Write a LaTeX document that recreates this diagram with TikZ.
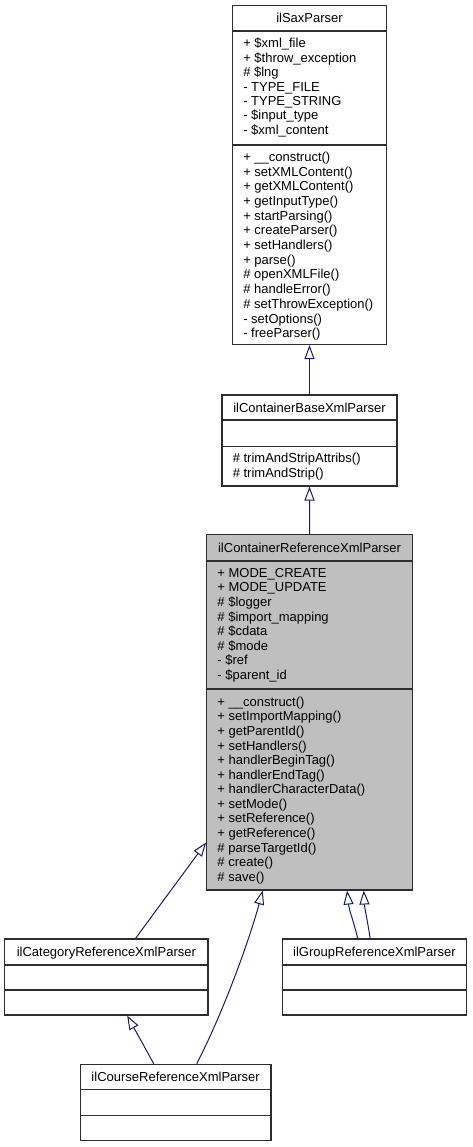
\documentclass[tikz,border=0pt]{standalone}
\usepackage{fontspec}
\setmainfont{Liberation Sans}
\usetikzlibrary{arrows.meta,fit,calc}
\definecolor{edgeblue}{RGB}{25,25,112}
\definecolor{boxline}{RGB}{45,45,45}
\definecolor{grayfill}{RGB}{191,191,191}
\begin{document}
\begin{tikzpicture}[x=0.75pt,y=-0.75pt,
  box/.style={draw=boxline, line width=0.8pt, inner sep=0pt, fill=white},
  sep/.style={draw=boxline, line width=0.8pt},
  txt/.style={anchor=base west, inner sep=0pt, font=\fontsize{9.75pt}{11pt}\selectfont},
  ttl/.style={anchor=base, inner sep=0pt, font=\fontsize{9.75pt}{11pt}\selectfont},
  inh/.style={draw=edgeblue, line width=0.75pt, -{Triangle[open,length=10.5pt,width=7.5pt,fill=white]}}]
\useasboundingbox (0,0) rectangle (472,1147);

% boxes
\node[box, fit={(232.5,5.5) (386.5,344.5)}] (sax) {};
\node[box, fit={(222,395) (397,486)}] (base) {};
\node[box, fill=grayfill, fit={(206.7,534.7) (412.3,890)}] (gray) {};
\node[box, fit={(4.7,939) (208,1015)}] (cat) {};
\node[box, fit={(282.3,939) (466.7,1015)}] (grp) {};
\node[box, fit={(80.3,1064.3) (271,1140.7)}] (course) {};

% separators
\draw[sep] (sax.west |- 0,31) -- (sax.east |- 0,31);
\draw[sep] (sax.west |- 0,145) -- (sax.east |- 0,145);
\draw[sep] (base.west |- 0,420) -- (base.east |- 0,420);
\draw[sep] (base.west |- 0,446.7) -- (base.east |- 0,446.7);
\draw[sep] (gray.west |- 0,561) -- (gray.east |- 0,561);
\draw[sep] (gray.west |- 0,689) -- (gray.east |- 0,689);
\draw[sep] (cat.west |- 0,965) -- (cat.east |- 0,965);
\draw[sep] (cat.west |- 0,990) -- (cat.east |- 0,990);
\draw[sep] (grp.west |- 0,965) -- (grp.east |- 0,965);
\draw[sep] (grp.west |- 0,990) -- (grp.east |- 0,990);
\draw[sep] (course.west |- 0,1089.7) -- (course.east |- 0,1089.7);
\draw[sep] (course.west |- 0,1115.3) -- (course.east |- 0,1115.3);

% titles
\node[ttl] (saxt) at (309.5,22.9) {ilSaxParser};
\node[ttl] (baset) at (309.5,412.1) {ilContainerBaseXmlParser};
\node[ttl] (grayt) at (309.5,552.4) {ilContainerReferenceXmlParser};
\node[ttl] (catt) at (106.35,956.6) {ilCategoryReferenceXmlParser};
\node[ttl] (grpt) at (374.5,956.6) {ilGroupReferenceXmlParser};
\node[ttl] (courset) at (175.65,1081.6) {ilCourseReferenceXmlParser};

% ilSaxParser members
\foreach \t [count=\i from 0] in {{+ \$xml\_file},{+ \$throw\_exception},{\# \$lng},{- TYPE\_FILE},{- TYPE\_STRING},{- \$input\_type},{- \$xml\_content}}
  \node[txt] (saxa\i) at (243,{47.9+14.4*\i}) {\t};
\foreach \t [count=\i from 0] in {{+ \_\_construct()},{+ setXMLContent()},{+ getXMLContent()},{+ getInputType()},{+ startParsing()},{+ createParser()},{+ setHandlers()},{+ parse()},{\# openXMLFile()},{\# handleError()},{\# setThrowException()},{- setOptions()},{- freeParser()}}
  \node[txt] (saxm\i) at (243,{161.3+14.7*\i}) {\t};

% ilContainerBaseXmlParser members
\node[txt] (basem0) at (232.5,462.9) {\# trimAndStripAttribs()};
\node[txt] (basem1) at (232.5,477.9) {\# trimAndStrip()};

% ilContainerReferenceXmlParser members
\foreach \t [count=\i from 0] in {{+ MODE\_CREATE},{+ MODE\_UPDATE},{\# \$logger},{\# \$import\_mapping},{\# \$cdata},{\# \$mode},{- \$ref},{- \$parent\_id}}
  \node[txt] (graya\i) at (217.2,{577.3+14.6*\i}) {\t};
\foreach \t [count=\i from 0] in {{+ \_\_construct()},{+ setImportMapping()},{+ getParentId()},{+ setHandlers()},{+ handlerBeginTag()},{+ handlerEndTag()},{+ handlerCharacterData()},{+ setMode()},{+ setReference()},{+ getReference()},{\# parseTargetId()},{\# create()},{\# save()}}
  \node[txt] (graym\i) at (217.2,{706.3+14.58*\i}) {\t};

% inheritance edges
\draw[inh] (base.north) -- (sax.south);
\draw[inh] (gray.north) -- (base.south);
\draw[inh] ($(cat.north west)+(131.3,0)$) -- ($(gray.north west)+(0,308.3)$);
\draw[inh] ($(course.north west)+(117,0)$) .. controls ($(course.north west)+(144.7,-54.3)$) and ($(course.north west)+(169.7,-124.3)$) .. ($(gray.south west)+(56.6,0)$);
\draw[inh] ($(course.north west)+(74,0)$) -- ($(cat.south west)+(123,0)$);
\draw[inh] ($(grp.north west)+(76,0)$) .. controls ($(grp.north west)+(71,-20)$) and ($(gray.south west)+(143,20)$) .. ($(gray.south west)+(141,0)$);
\draw[inh] ($(grp.north west)+(88.4,0)$) .. controls ($(grp.north west)+(85,-22)$) and ($(gray.south west)+(158.5,18)$) .. ($(gray.south west)+(157.6,0)$);
\end{tikzpicture}
\end{document}
